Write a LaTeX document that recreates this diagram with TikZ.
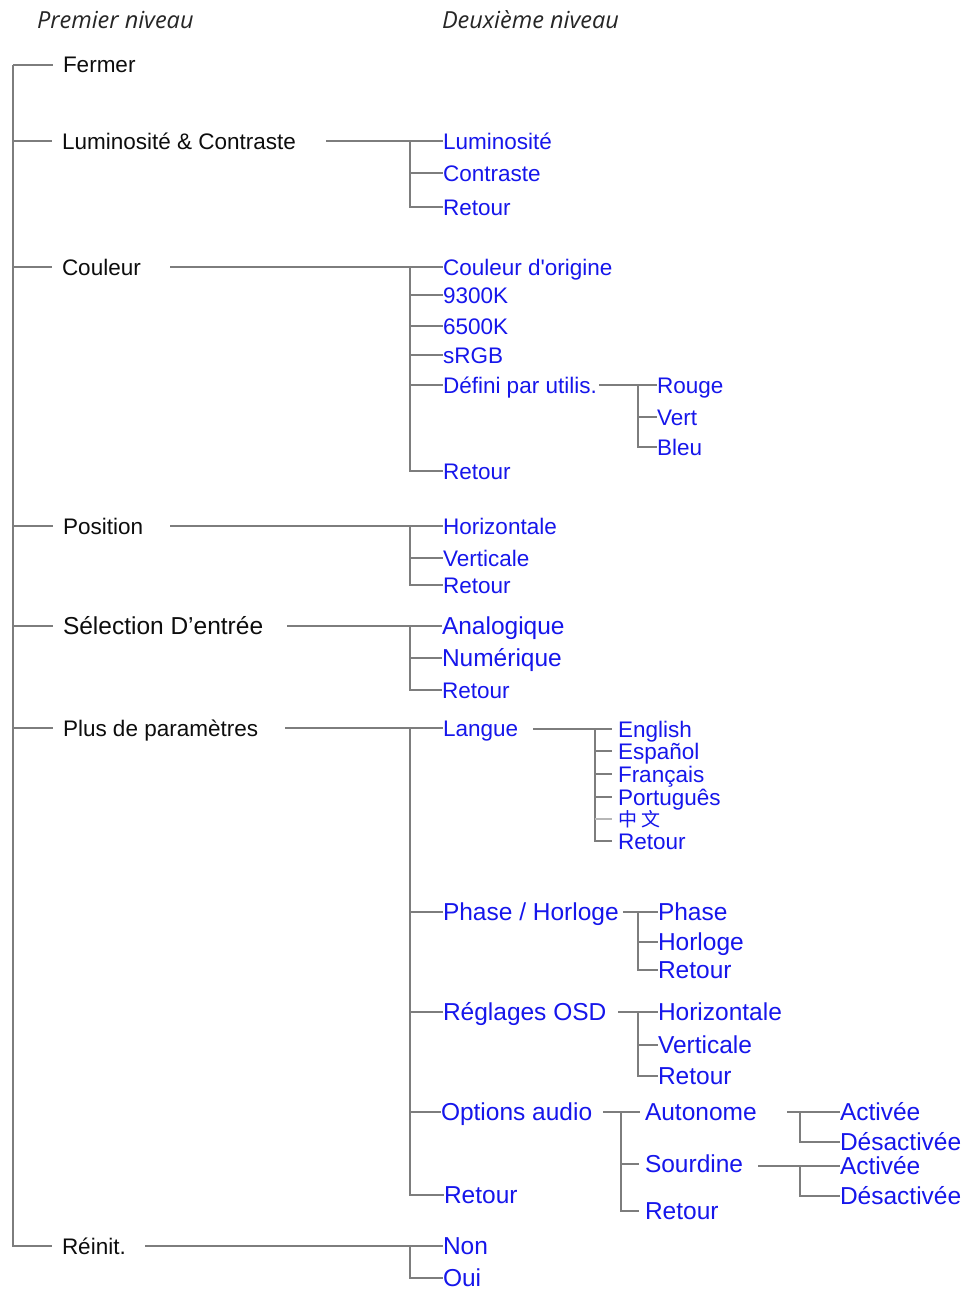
\documentclass[tikz,border=0pt]{standalone}
\usepackage{fontspec}
\setmainfont{Liberation Sans}
\newfontfamily\nomapf{Liberation Sans}[Ligatures=TeXOff]
\newfontfamily\hdfont{Open Sans}
\newfontfamily\cjk{Noto Sans CJK SC}
\definecolor{itemblue}{RGB}{22,22,235}
\definecolor{linegray}{RGB}{125,125,125}
\begin{document}
\begin{tikzpicture}[x=1pt,y=-1pt,
  base/.style={anchor=west, inner sep=0pt, outer sep=0pt, text depth=0pt},
  top/.style={base, text=black!95, text height=16pt, font=\fontsize{22.5}{27}\selectfont},
  topL/.style={base, text=black!95, text height=17.5pt, font=\fontsize{24.5}{29}\selectfont},
  sub/.style={base, text=itemblue, text height=16pt, font=\fontsize{22.5}{27}\selectfont},
  subL/.style={base, text=itemblue, text height=17.5pt, font=\fontsize{24.5}{29}\selectfont},
  head/.style={base, text=black!85, text height=16pt, font=\hdfont\itshape\fontsize{23.5}{28}\selectfont},
  conn/.style={draw=linegray, line width=1.3pt},
  connlight/.style={draw=linegray!55, line width=1.3pt}]
\fill[white] (0,0) rectangle (967,1290);
\useasboundingbox (0,0) rectangle (967,1290);

% headers
\node[head] (h1) at (37,21) {Premier niveau};
\node[head] (h2) at (442,21) {Deuxième niveau};

% first level
\node[top] (fer) at (63,65) {Fermer};
\node[top] (lc) at (62,141) {Luminosité \& Contraste};
\node[top] (coul) at (62,267) {Couleur};
\node[top] (pos) at (63,526) {Position};
\node[topL] (sel) at (63,626) {Sélection D’entrée};
\node[top] (plus) at (63,728) {Plus de paramètres};
\node[top] (rei) at (62,1246) {Réinit.};

\coordinate (root) at (13,65);
\foreach \n in {fer,lc,coul,pos,sel,plus,rei}
  \draw[conn] (root) |- ([xshift=-10]\n.west);

% Luminosite & Contraste
\node[sub] (lc1) at (443,141) {Luminosité};
\node[sub] (lc2) at (443,173) {Contraste};
\node[sub] (lc3) at (443,207) {Retour};
\coordinate (lcs) at (326,141);
\coordinate (lcj) at (410,141);
\draw[conn] (lcs) -- (lc1.west);
\foreach \n in {lc2,lc3} \draw[conn] (lcj) |- (\n.west);

% Couleur
\node[sub] (c1) at (443,267) {Couleur d{\nomapf'}origine};
\node[sub] (c2) at (443,295) {9300K};
\node[sub] (c3) at (443,326) {6500K};
\node[sub] (c4) at (443,355) {sRGB};
\node[sub] (c5) at (443,385) {Défini par utilis.};
\node[sub] (c6) at (443,471) {Retour};
\coordinate (cs) at (170,267);
\coordinate (cj) at (410,267);
\draw[conn] (cs) -- (c1.west);
\foreach \n in {c2,c3,c4,c5,c6} \draw[conn] (cj) |- (\n.west);

% Defini par utilis.
\node[sub] (d1) at (657,385) {Rouge};
\node[sub] (d2) at (657,417) {Vert};
\node[sub] (d3) at (657,447) {Bleu};
\coordinate (ds) at (599,385);
\coordinate (dj) at (638,385);
\draw[conn] (ds) -- (d1.west);
\foreach \n in {d2,d3} \draw[conn] (dj) |- (\n.west);

% Position
\node[sub] (p1) at (443,526) {Horizontale};
\node[sub] (p2) at (443,558) {Verticale};
\node[sub] (p3) at (443,585) {Retour};
\coordinate (ps) at (170,526);
\coordinate (pj) at (410,526);
\draw[conn] (ps) -- (p1.west);
\foreach \n in {p2,p3} \draw[conn] (pj) |- (\n.west);

% Selection d'entree
\node[subL] (s1) at (442,626) {Analogique};
\node[subL] (s2) at (442,658) {Numérique};
\node[sub] (s3) at (442,690) {Retour};
\coordinate (ss) at (287,626);
\coordinate (sj) at (410,626);
\draw[conn] (ss) -- (s1.west);
\foreach \n in {s2,s3} \draw[conn] (sj) |- (\n.west);

% Plus de parametres
\node[sub] (m1) at (443,728) {Langue};
\node[subL] (m2) at (443,912) {Phase / Horloge};
\node[subL] (m3) at (443,1012) {Réglages OSD};
\node[subL] (m4) at (441,1112) {Options audio};
\node[subL] (m5) at (444,1195) {Retour};
\coordinate (ms) at (285,728);
\coordinate (mj) at (410,728);
\draw[conn] (ms) -- (m1.west);
\foreach \n in {m2,m3,m4,m5} \draw[conn] (mj) |- (\n.west);

% Langue
\node[sub] (l1) at (618,729) {English};
\node[sub] (l2) at (618,751) {Español};
\node[sub] (l3) at (618,774) {Français};
\node[sub] (l4) at (618,797) {Português};
\node[base, text=itemblue, text height=14pt, font=\cjk\fontsize{19}{22}\selectfont] (l5) at (618,819) {中 文};
\node[sub] (l6) at (618,841) {Retour};
\coordinate (ls) at (533,729);
\coordinate (lj) at (595,729);
\draw[conn] (ls) -- ([xshift=-6]l1.west);
\foreach \n in {l2,l3,l4,l6} \draw[conn] (lj) |- ([xshift=-6]\n.west);
\draw[connlight] (lj |- l5.west) -- ([xshift=-6]l5.west);

% Phase / Horloge
\node[subL] (ph1) at (658,912) {Phase};
\node[subL] (ph2) at (658,942) {Horloge};
\node[subL] (ph3) at (658,970) {Retour};
\coordinate (phs) at (623,912);
\coordinate (phj) at (638,912);
\draw[conn] (phs) -- (ph1.west);
\foreach \n in {ph2,ph3} \draw[conn] (phj) |- (\n.west);

% Reglages OSD
\node[subL] (o1) at (658,1012) {Horizontale};
\node[subL] (o2) at (658,1045) {Verticale};
\node[subL] (o3) at (658,1076) {Retour};
\coordinate (os) at (618,1012);
\coordinate (oj) at (638,1012);
\draw[conn] (os) -- (o1.west);
\foreach \n in {o2,o3} \draw[conn] (oj) |- (\n.west);

% Options audio
\node[subL] (a1) at (645,1112) {Autonome};
\node[subL] (a2) at (645,1164) {Sourdine};
\node[subL] (a3) at (645,1211) {Retour};
\coordinate (as) at (603,1112);
\coordinate (aj) at (621,1112);
\draw[conn] (as) -- ([xshift=-5]a1.west);
\foreach \n in {a2,a3} \draw[conn] (aj) |- ([xshift=-6]\n.west);

% Autonome
\node[subL] (au1) at (840,1112) {Activée};
\node[subL] (au2) at (840,1142) {Désactivée};
\coordinate (aus) at (787,1112);
\coordinate (auj) at (800,1112);
\draw[conn] (aus) -- (au1.west);
\draw[conn] (auj) |- (au2.west);

% Sourdine
\node[subL] (so1) at (840,1166) {Activée};
\node[subL] (so2) at (840,1196) {Désactivée};
\coordinate (sos) at (758,1166);
\coordinate (soj) at (800,1166);
\draw[conn] (sos) -- (so1.west);
\draw[conn] (soj) |- (so2.west);

% Reinit.
\node[subL] (r1) at (443,1246) {Non};
\node[subL] (r2) at (443,1278) {Oui};
\coordinate (rs) at (145,1246);
\coordinate (rj) at (410,1246);
\draw[conn] (rs) -- (r1.west);
\draw[conn] (rj) |- (r2.west);
\end{tikzpicture}
\end{document}
